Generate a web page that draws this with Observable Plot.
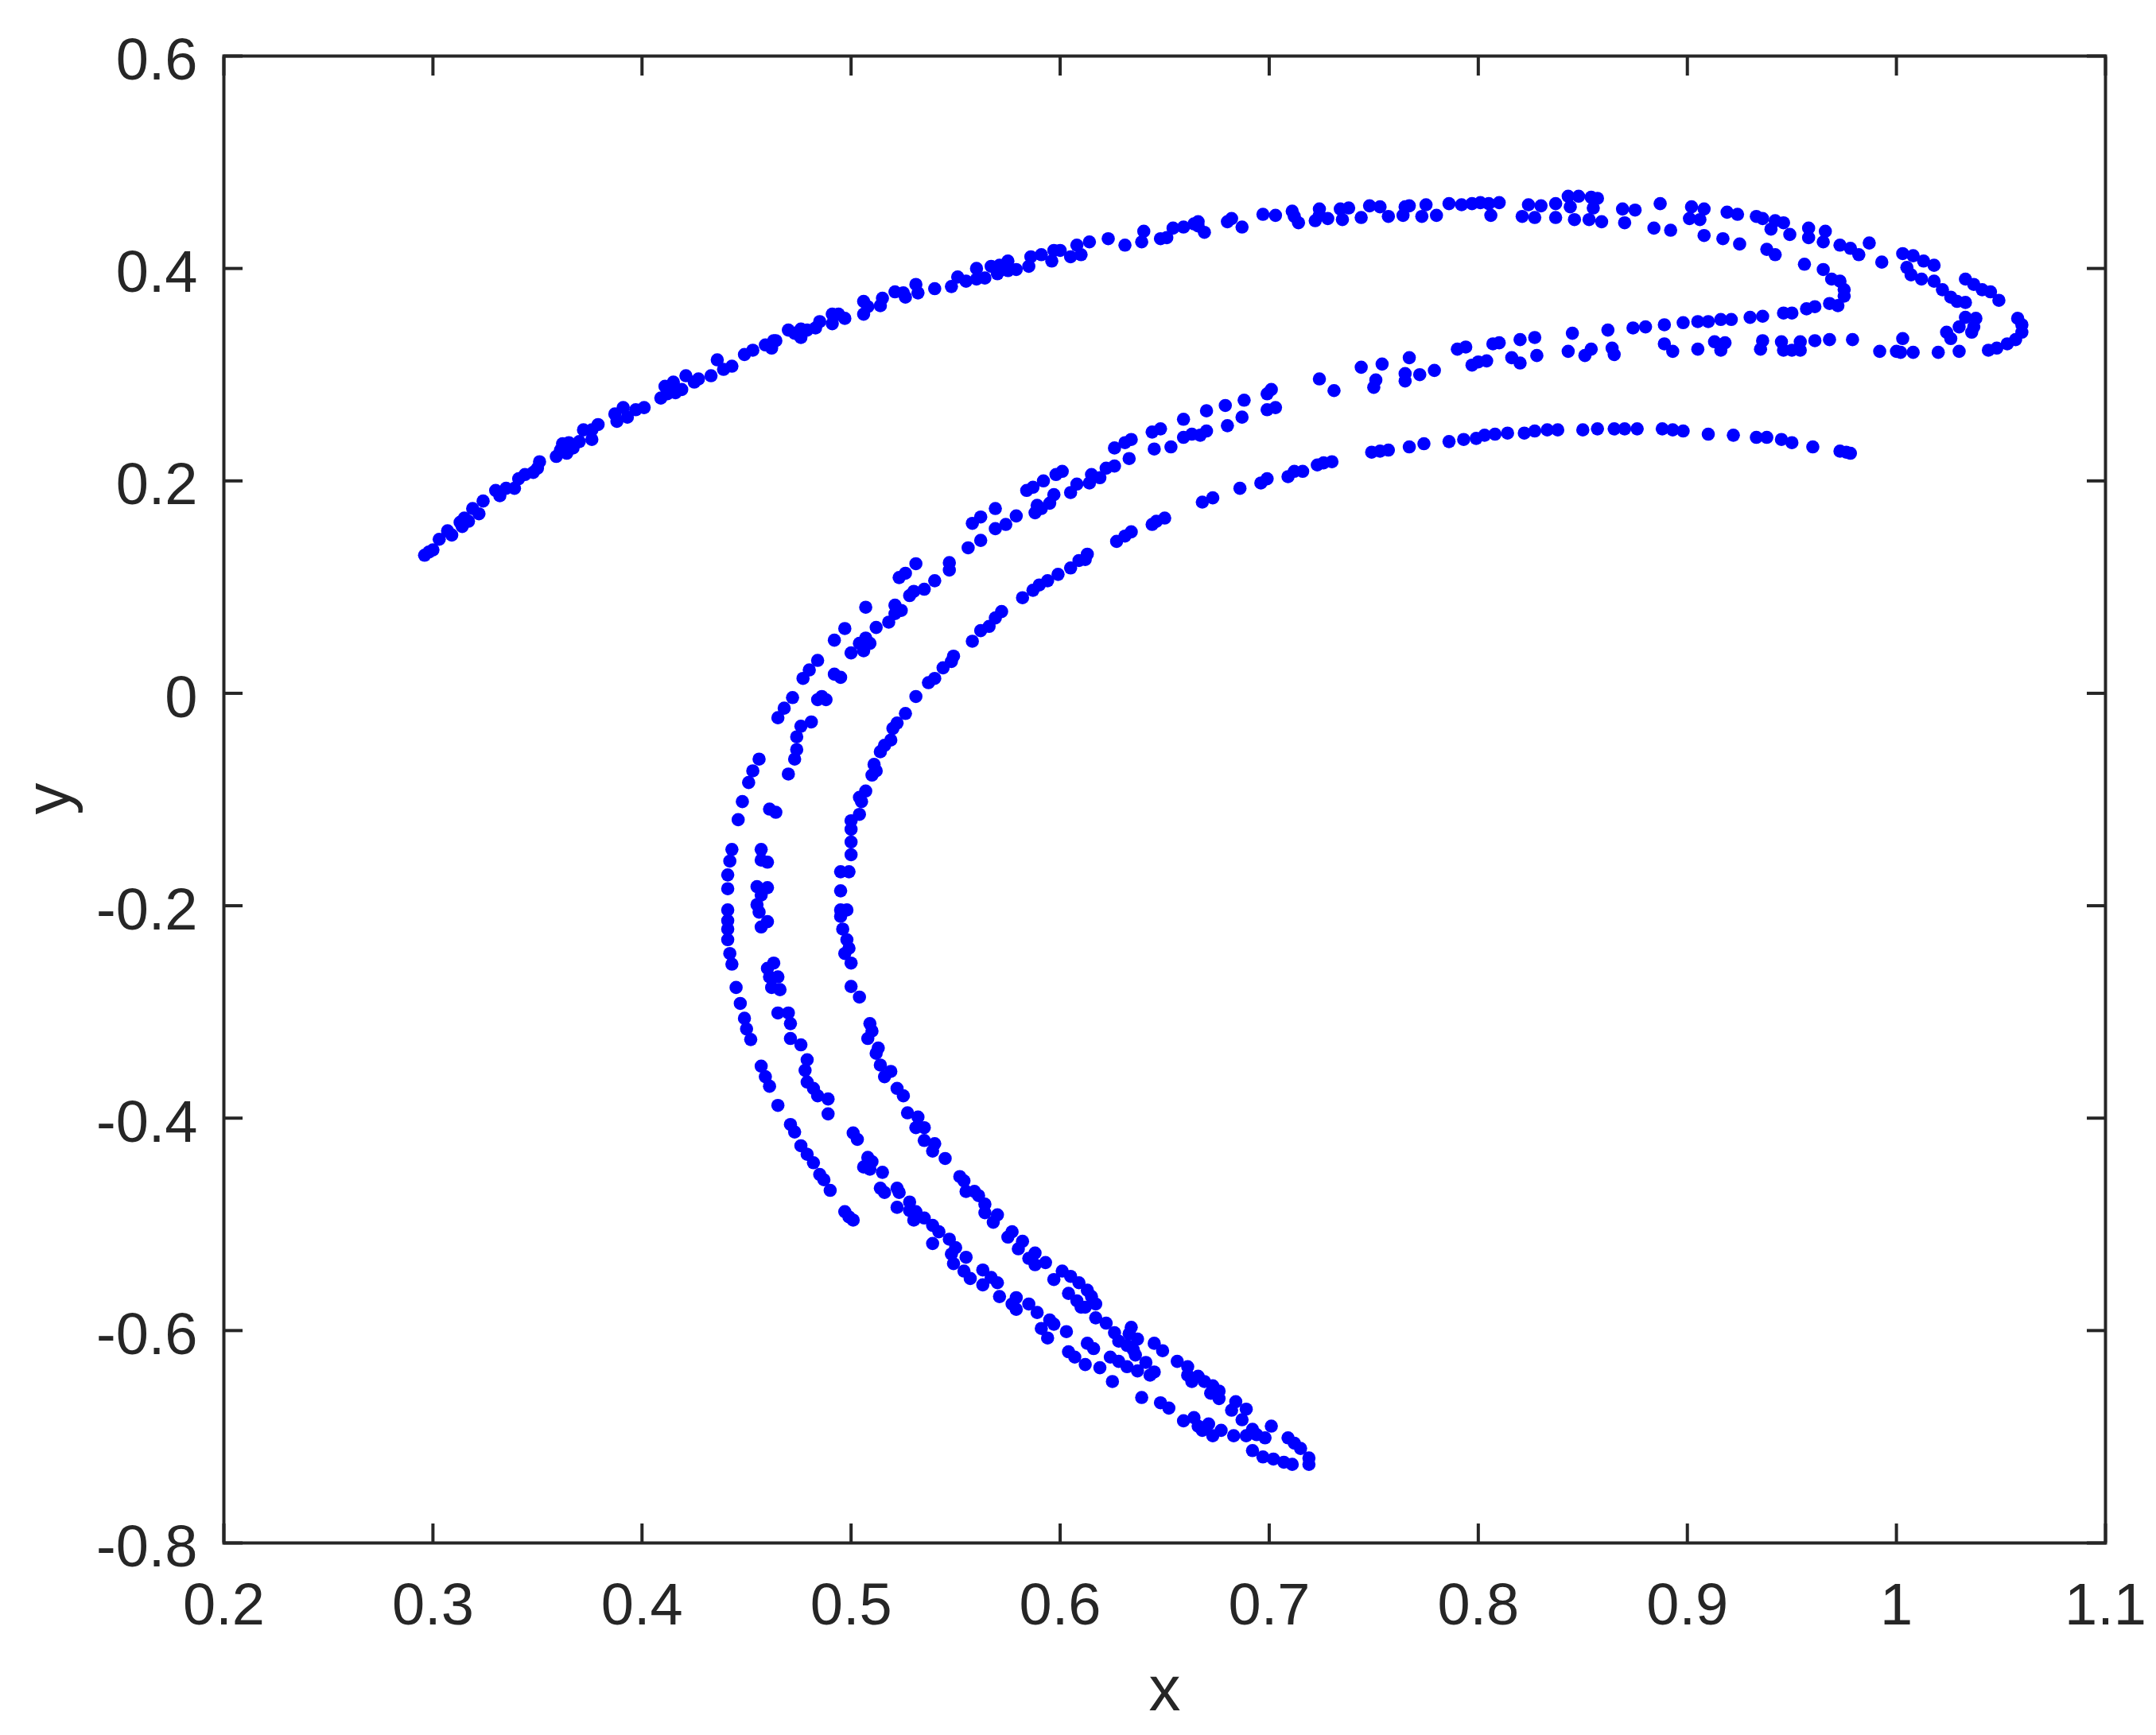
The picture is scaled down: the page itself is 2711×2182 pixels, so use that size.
<!DOCTYPE html>
<html>
<head>
<meta charset="utf-8">
<script src="https://cdn.jsdelivr.net/npm/d3@7"></script>
<script src="https://cdn.jsdelivr.net/npm/@observablehq/plot@0.6"></script>
<style>
html,body{margin:0;padding:0;background:#fff}
svg{display:block}
</style>
</head>
<body>
<div id="chart"></div>
<script>
const xTicks = [0.2,0.3,0.4,0.5,0.6,0.7,0.8,0.9,1,1.1];
const yTicks = [-0.8,-0.6,-0.4,-0.2,0,0.2,0.4,0.6];
const xDomain = [0.2,1.1];
const yDomain = [-0.8,0.6];
const xLabel = "x";
const yLabel = "y";

const upperArcStart = [[.296,.130],[.298,.133],[.300,.135],[.303,.145],[.307,.153],[.309,.149],[.313,.161],[.314,.157],[.315,.165],[.317,.162],[.319,.174],[.322,.169],[.324,.181],[.330,.191],[.332,.186],[.335,.193],[.339,.193],[.341,.202],[.344,.206],[.348,.208],[.350,.212],[.351,.218],[.359,.223],[.361,.229],[.362,.235],[.365,.236],[.364,.226],[.367,.231],[.370,.237],[.372,.248],[.376,.239],[.376,.248],[.379,.253],[.387,.263],[.388,.256],[.391,.269],[.393,.260],[.397,.267],[.401,.269],[.409,.278],[.412,.282],[.411,.289],[.415,.293],[.416,.283],[.419,.286],[.421,.299],[.425,.293],[.427,.296],[.433,.299],[.436,.314],[.439,.305],[.443,.308],[.449,.319],[.453,.323],[.459,.328],[.463,.332],[.462,.325],[.464,.332],[.470,.342],[.473,.339]];

const upperArcMiddle = [[.476,.335],[.476,.343],[.479,.342],[.483,.344],[.485,.350],[.491,.348],[.491,.357],[.494,.357],[.497,.353],[.506,.369],[.506,.357],[.508,.364],[.515,.372],[.514,.365],[.521,.378],[.525,.377],[.526,.373],[.531,.385],[.532,.377],[.540,.381],[.548,.383],[.551,.392],[.555,.388],[.560,.400],[.560,.390],[.564,.391],[.567,.402],[.570,.395],[.571,.403],[.575,.407],[.575,.398],[.579,.399],[.585,.402],[.586,.411],[.591,.413],[.596,.407],[.597,.417],[.600,.417],[.605,.411],[.608,.422],[.610,.413],[.614,.425],[.623,.428],[.631,.422],[.639,.425],[.640,.435],[.648,.428],[.651,.429],[.654,.438],[.659,.439],[.664,.442]];

const upperArcTop = [[.666,.444],[.666,.440],[.669,.434],[.680,.444],[.682,.447],[.687,.439],[.697,.451],[.703,.450],[.711,.454],[.712,.449],[.714,.443],[.724,.456],[.724,.450],[.722,.445],[.728,.447],[.734,.456],[.738,.457],[.735,.446],[.744,.448],[.748,.459],[.753,.458],[.757,.449],[.764,.450],[.767,.459],[.765,.458],[.775,.460],[.773,.449],[.780,.450],[.786,.461],[.792,.460],[.797,.461],[.801,.462],[.805,.461],[.810,.462],[.806,.450],[.821,.449],[.827,.448],[.824,.460],[.830,.459],[.837,.461],[.837,.448],[.843,.468],[.848,.468],[.854,.467],[.857,.466],[.844,.458],[.855,.457],[.846,.446],[.853,.446],[.859,.444],[.869,.456],[.875,.455],[.887,.461],[.870,.443],[.884,.438],[.892,.436],[.902,.458],[.908,.456],[.901,.447],[.906,.446],[.919,.453],[.924,.451],[.933,.449],[.936,.447],[.942,.445],[.946,.443],[.940,.437],[.949,.432],[.958,.438],[.966,.435],[.958,.429],[.965,.425],[.973,.422],[.978,.419],[.982,.413],[.987,.424],[.993,.406],[1.003,.414],[1.008,.412],[1.013,.407],[1.018,.403],[1.005,.401],[1.007,.394],[1.012,.390],[1.018,.388]];

const innerFold = [[.908,.431],[.917,.428],[.925,.423],[.938,.418],[.942,.413],[.956,.404],[.965,.399],[.969,.390],[.973,.388],[.975,.380],[.975,.374],[.972,.365],[.968,.367],[.961,.364],[.957,.362],[.950,.358],[.946,.358],[.936,.355],[.930,.354],[.921,.352],[.916,.352],[.910,.350],[.905,.350],[.898,.349],[.889,.347],[.880,.345],[.874,.344],[.862,.342],[.845,.339],[.827,.335],[.820,.333],[.810,.330],[.807,.329],[.794,.326],[.790,.324]];

const rightLoop = [[1.033,.390],[1.037,.385],[1.041,.380],[1.045,.378],[1.049,.370],[1.022,.380],[1.026,.373],[1.033,.368],[1.029,.369],[1.033,.354],[1.038,.353],[1.037,.345],[1.030,.345],[1.036,.340],[1.024,.340],[1.026,.334],[1.058,.353],[1.060,.347],[1.060,.340],[1.057,.333],[1.053,.329],[1.048,.325],[1.044,.323],[1.030,.322],[1.020,.321],[1.008,.321],[1.002,.321],[1.000,.322],[.992,.322],[1.003,.334],[.979,.333],[.968,.333],[.961,.332],[.954,.331],[.954,.323],[.950,.323],[.946,.323],[.945,.331],[.936,.332],[.935,.324],[.918,.330],[.913,.331],[.916,.323],[.905,.324],[.893,.322],[.889,.329],[.865,.319],[.864,.325],[.854,.324],[.851,.318],[.843,.322],[.828,.318],[.820,.311],[.816,.316],[.804,.313],[.800,.312],[.797,.309],[.779,.304],[.772,.300],[.765,.301],[.765,.294],[.751,.295],[.750,.288],[.767,.316],[.754,.310],[.744,.307],[.731,.285],[.724,.296],[.701,.286],[.699,.282],[.688,.276],[.679,.271],[.670,.266],[.703,.269],[.699,.267],[.687,.260],[.680,.252],[.670,.247],[.667,.243]];

const innerArcRight = [[.978,.226],[.973,.228],[.976,.227],[.960,.232],[.950,.236],[.945,.239],[.938,.241],[.933,.241],[.922,.243],[.910,.244],[.898,.247],[.893,.248],[.888,.249],[.876,.249],[.870,.249],[.865,.249],[.857,.249],[.850,.248],[.838,.248],[.833,.248],[.827,.247],[.822,.245],[.814,.245],[.808,.244],[.803,.243],[.799,.240],[.793,.239],[.786,.237],[.774,.235],[.767,.232],[.757,.229],[.753,.228],[.749,.227],[.730,.218],[.726,.217],[.723,.215],[.716,.209],[.712,.209],[.709,.204],[.699,.202],[.696,.198],[.686,.193]];

const middleBandUpper = [[.634,.239],[.631,.236],[.626,.231],[.648,.249],[.644,.246],[.645,.230],[.653,.232],[.659,.258],[.659,.241],[.663,.244],[.633,.221],[.626,.214],[.622,.212],[.619,.203],[.615,.206],[.614,.198],[.608,.197],[.605,.189],[.601,.209],[.598,.206],[.592,.200],[.587,.194],[.584,.191],[.597,.187],[.595,.179],[.589,.177],[.588,.170],[.591,.174],[.579,.167],[.574,.159],[.569,.155],[.569,.174],[.562,.166],[.558,.160],[.562,.144],[.556,.137],[.547,.123],[.547,.116],[.531,.122],[.526,.113],[.523,.109],[.540,.106],[.535,.098],[.530,.096],[.528,.092],[.521,.083],[.524,.078],[.521,.075],[.518,.067],[.512,.062],[.507,.081],[.497,.061],[.492,.050],[.507,.052],[.509,.047],[.504,.047],[.506,.040],[.500,.038],[.484,.031],[.480,.022],[.477,.014],[.492,.018],[.495,.015],[.486,-.003],[.484,-.006],[.488,-.006],[.472,-.004],[.468,-.014],[.465,-.023],[.481,-.027],[.476,-.031],[.474,-.041],[.474,-.053]];

const innerArcUpper = [[.673,.184],[.668,.180],[.650,.165],[.646,.162],[.644,.159],[.634,.152],[.631,.148],[.627,.143],[.613,.131],[.612,.126],[.609,.125],[.605,.118],[.599,.112],[.594,.106],[.590,.102],[.587,.097],[.582,.090],[.572,.077],[.569,.071],[.566,.063],[.562,.059],[.558,.049],[.549,.035],[.548,.030],[.544,.024],[.540,.014],[.537,.010],[.531,-.003],[.526,-.019],[.522,-.028],[.520,-.033],[.519,-.044],[.516,-.049],[.514,-.055]];

const outerBandLeft = [[.473,-.062],[.470,-.076],[.456,-.062],[.453,-.073],[.451,-.084],[.448,-.102],[.446,-.119],[.443,-.147],[.442,-.158],[.441,-.171],[.441,-.184],[.441,-.204],[.441,-.214],[.441,-.222],[.441,-.232],[.442,-.245],[.443,-.255],[.445,-.277],[.447,-.292],[.449,-.306],[.450,-.316],[.452,-.326],[.457,-.351],[.459,-.361],[.461,-.370],[.465,-.388],[.471,-.406],[.473,-.413],[.476,-.426],[.479,-.434],[.482,-.442],[.485,-.453],[.487,-.458],[.490,-.468],[.497,-.488],[.499,-.493],[.501,-.496]];

const middleBandLeft = [[.461,-.109],[.464,-.112],[.457,-.147],[.457,-.157],[.460,-.159],[.455,-.182],[.460,-.183],[.457,-.190],[.455,-.199],[.456,-.206],[.460,-.215],[.457,-.220],[.463,-.254],[.460,-.259],[.461,-.267],[.465,-.267],[.462,-.277],[.466,-.279],[.465,-.301],[.470,-.301],[.471,-.311],[.471,-.325],[.476,-.331],[.479,-.345],[.478,-.355],[.479,-.366],[.482,-.372],[.484,-.379],[.489,-.382],[.489,-.396],[.501,-.414],[.503,-.420],[.508,-.437],[.506,-.446],[.510,-.441],[.509,-.448],[.515,-.451],[.514,-.466],[.516,-.470],[.522,-.466],[.523,-.470]];

const innerArcLeft = [[.511,-.067],[.510,-.077],[.512,-.073],[.507,-.092],[.505,-.102],[.504,-.098],[.504,-.114],[.500,-.120],[.500,-.128],[.500,-.140],[.500,-.152],[.495,-.168],[.499,-.168],[.495,-.186],[.495,-.204],[.498,-.204],[.495,-.210],[.496,-.222],[.498,-.232],[.499,-.240],[.497,-.245],[.500,-.254],[.500,-.276],[.504,-.286],[.509,-.311],[.510,-.318],[.508,-.325],[.513,-.334],[.512,-.339],[.514,-.350],[.519,-.356],[.516,-.361],[.522,-.372],[.525,-.379],[.527,-.395],[.532,-.399],[.531,-.409],[.535,-.409],[.535,-.421],[.540,-.424],[.539,-.431],[.545,-.438],[.552,-.455],[.554,-.459],[.555,-.469],[.559,-.469]];

const lowerBandOuter = [[.522,-.484],[.528,-.479],[.528,-.487],[.531,-.488],[.530,-.496],[.535,-.494],[.539,-.501],[.542,-.507],[.539,-.518],[.547,-.514],[.550,-.522],[.548,-.528],[.555,-.531],[.549,-.537],[.554,-.544],[.557,-.551],[.563,-.543],[.567,-.550],[.570,-.555],[.563,-.557],[.571,-.568],[.579,-.569],[.577,-.575],[.579,-.580],[.585,-.575],[.589,-.583],[.595,-.590],[.597,-.594],[.591,-.598],[.594,-.607],[.603,-.601],[.613,-.612],[.616,-.617],[.604,-.620],[.607,-.625],[.612,-.632],[.619,-.635],[.624,-.625],[.628,-.629],[.632,-.634],[.637,-.638],[.641,-.630],[.643,-.642],[.645,-.639],[.625,-.648],[.639,-.663],[.648,-.668],[.652,-.673],[.659,-.685],[.664,-.682],[.666,-.690],[.668,-.694],[.671,-.688],[.673,-.699],[.677,-.694],[.683,-.699],[.689,-.699],[.692,-.693],[.694,-.698],[.698,-.701],[.701,-.690],[.692,-.713],[.697,-.719],[.702,-.721],[.707,-.724],[.711,-.726],[.719,-.720],[.719,-.726],[.709,-.701],[.712,-.706],[.715,-.711]];

const lowerBandInner = [[.561,-.473],[.564,-.481],[.564,-.489],[.570,-.491],[.568,-.498],[.577,-.507],[.575,-.512],[.582,-.516],[.580,-.523],[.588,-.527],[.585,-.532],[.588,-.538],[.593,-.536],[.601,-.544],[.597,-.552],[.605,-.549],[.609,-.555],[.604,-.565],[.613,-.562],[.615,-.568],[.608,-.572],[.610,-.578],[.612,-.578],[.617,-.575],[.617,-.588],[.622,-.593],[.626,-.602],[.628,-.610],[.632,-.614],[.634,-.597],[.633,-.603],[.637,-.608],[.635,-.618],[.636,-.623],[.645,-.612],[.649,-.619],[.656,-.629],[.661,-.634],[.661,-.642],[.663,-.648],[.666,-.643],[.669,-.648],[.673,-.652],[.676,-.657],[.672,-.659],[.676,-.664],[.684,-.667],[.682,-.675],[.689,-.674],[.687,-.684]];

const bands = [upperArcStart, upperArcMiddle, upperArcTop, innerFold, rightLoop, innerArcRight, middleBandUpper, innerArcUpper, outerBandLeft, middleBandLeft, innerArcLeft, lowerBandOuter, lowerBandInner];
const points = bands.flat().map(([x, y]) => ({x, y}));

const ink = "#262626";
const font = "'Liberation Sans', Arial, sans-serif";
const tickStyle = {label: null, fill: "none", stroke: ink, strokeWidth: 4, tickSize: -24};

const chart = Plot.plot({
  width: 2711,
  height: 2182,
  marginLeft: 281,
  marginRight: 64,
  marginTop: 70,
  marginBottom: 242,
  style: {fontFamily: font, background: "#fff", overflow: "visible"},
  x: {domain: xDomain, ticks: xTicks},
  y: {domain: yDomain, ticks: yTicks},
  marks: [
    Plot.dot(points, {x: "x", y: "y", r: 8.3, fill: "#0000ff", stroke: "none"}),
    Plot.frame({stroke: ink, strokeWidth: 4}),
    Plot.axisX(xTicks, {anchor: "bottom", ...tickStyle}),
    Plot.axisX(xTicks, {anchor: "top", ...tickStyle}),
    Plot.axisY(yTicks, {anchor: "left", ...tickStyle}),
    Plot.axisY(yTicks, {anchor: "right", ...tickStyle}),
    Plot.axisX(xTicks, {anchor: "bottom", label: null, tickSize: 0, tickPadding: 50, fontSize: 74, fill: ink, stroke: "none", tickFormat: d => String(d)}),
    Plot.axisY(yTicks, {anchor: "left", label: null, tickSize: 0, tickPadding: 33, fontSize: 74, fill: ink, stroke: "none", dy: 6, tickFormat: d => String(d)}),
    Plot.text([xLabel], {frameAnchor: "bottom", dy: 210, text: d => d, fontSize: 80, fill: ink, lineAnchor: "bottom"}),
    Plot.text([yLabel], {frameAnchor: "left", dx: -220, dy: 19, text: d => d, fontSize: 80, fill: ink, rotate: -90})
  ]
});
document.getElementById("chart").appendChild(chart);
</script>
</body>
</html>
